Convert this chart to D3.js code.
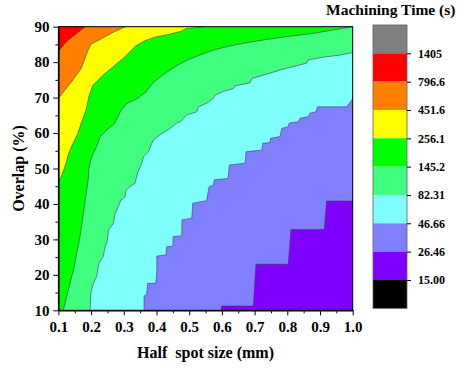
<!DOCTYPE html>
<html>
<head>
<meta charset="utf-8">
<script src="https://cdn.jsdelivr.net/npm/d3@7"></script>
<style>
  body { margin: 0; background: #fff; }
  text { font-family: 'Liberation Serif', 'Times New Roman', serif; font-weight: bold; fill: #000; }
</style>
</head>
<body>
<svg id="chart" width="462" height="369"></svg>
<script>
// Colour bands, from the top of the colour bar down
const bandColors = ['#808080', '#ff0000', '#ff8000', '#ffff00', '#00ff00', '#40ff80', '#80ffff', '#8080ff', '#8000ff', '#000000']
const levelLabels = ['1405', '796.6', '451.6', '256.1', '145.2', '82.31', '46.66', '26.46', '15.00']

const xTicks = [0.1, 0.2, 0.3, 0.4, 0.5, 0.6, 0.7, 0.8, 0.9, 1.0]
const yTicks = [10, 20, 30, 40, 50, 60, 70, 80, 90]

// Contour lines: [half spot size (mm), overlap (%)]
const c796 = [[0.182, 90], [0.156, 88.1], [0.125, 85.8], [0.1, 83.0]]
const c452 = [[0.305, 90], [0.267, 88.4], [0.227, 86.4], [0.2, 85.1], [0.19, 83.2], [0.177, 80.0], [0.169, 78.1], [0.139, 74.3], [0.103, 70.1], [0.1, 69.6]]
const c256 = [[0.548, 90], [0.492, 89.5], [0.472, 88.6], [0.431, 87.7], [0.398, 87.1], [0.368, 86.2], [0.337, 84.6], [0.302, 81.4], [0.271, 79.0], [0.235, 76.2], [0.205, 73.4], [0.194, 70.5], [0.184, 66.3], [0.169, 62.6], [0.159, 59.7], [0.135, 55.2], [0.12, 50.5], [0.105, 46.8], [0.1, 45.8]]
const c145 = [[1.0, 90], [0.941, 89.1], [0.879, 88.1], [0.798, 87.2], [0.737, 86.4], [0.676, 85.5], [0.625, 84.6], [0.574, 83.4], [0.533, 82.0], [0.502, 80.9], [0.472, 79.5], [0.441, 77.8], [0.411, 75.8], [0.389, 74.1], [0.368, 71.6], [0.343, 69.8], [0.307, 68.2], [0.291, 66.3], [0.281, 64.4], [0.271, 62.6], [0.249, 60.9], [0.227, 58.9], [0.217, 56.2], [0.202, 53.3], [0.194, 50.5], [0.191, 46.8], [0.181, 40.2], [0.166, 30.8], [0.146, 21.4], [0.125, 13.8], [0.115, 10]]
const c82 = [[1.0, 82.7], [0.961, 82.0], [0.91, 81.4], [0.864, 80.6], [0.859, 79.7], [0.778, 77.8], [0.747, 76.9], [0.691, 75.4], [0.686, 74.2], [0.64, 73.3], [0.635, 72.6], [0.604, 71.7], [0.579, 70.7], [0.574, 69.8], [0.553, 68.4], [0.528, 67.4], [0.523, 66.0], [0.492, 65.1], [0.472, 63.1], [0.462, 62.8], [0.441, 61.3], [0.411, 59.5], [0.39, 58.0], [0.375, 54.7], [0.36, 53.3], [0.355, 51.5], [0.343, 49.0], [0.334, 45.8], [0.319, 44.9], [0.307, 43.9], [0.304, 42.0], [0.291, 41.1], [0.283, 39.2], [0.273, 37.4], [0.268, 34.5], [0.253, 32.7], [0.25, 29.8], [0.243, 27.9], [0.237, 25.1], [0.224, 23.3], [0.217, 19.5], [0.207, 17.6], [0.199, 14.8], [0.197, 10]]
const c47 = [[1.0, 69.6], [0.982, 67.4], [0.892, 67.4], [0.888, 66.0], [0.869, 65.6], [0.864, 64.6], [0.839, 64.2], [0.834, 63.2], [0.806, 62.8], [0.803, 61.8], [0.783, 61.3], [0.778, 59.0], [0.749, 58.5], [0.747, 57.3], [0.725, 57.1], [0.722, 55.2], [0.674, 54.7], [0.671, 51.5], [0.623, 51.0], [0.619, 47.2], [0.577, 46.8], [0.574, 45.3], [0.561, 44.9], [0.553, 40.9], [0.511, 40.2], [0.508, 36.0], [0.478, 35.5], [0.477, 31.0], [0.451, 30.8], [0.45, 28.1], [0.431, 27.9], [0.429, 25.6], [0.401, 25.3], [0.401, 21.4], [0.398, 17.6], [0.373, 17.6], [0.37, 14.6], [0.362, 14.0], [0.362, 10]]
const c26 = [[1.0, 40.8], [0.92, 40.8], [0.913, 32.8], [0.811, 32.8], [0.803, 23.0], [0.704, 23.0], [0.696, 11.2], [0.599, 11.2], [0.597, 10]]

// lowest band first, each one painted over the area above/left of its line
const contours = [
  { line: c26, color: bandColors[7] },
  { line: c47, color: bandColors[6] },
  { line: c82, color: bandColors[5] },
  { line: c145, color: bandColors[4] },
  { line: c256, color: bandColors[3] },
  { line: c452, color: bandColors[2] },
  { line: c796, color: bandColors[1] },
]

const svg = d3.select('#chart')
const plot = { left: 58.4, right: 352.7, top: 26.7, bottom: 310.3 }

const x = d3.scaleLinear().domain([0.1, 1.0]).range([plot.left, plot.right])
const y = d3.scaleLinear().domain([10, 90]).range([plot.bottom, plot.top])

// base fill = lowest band inside the plot
svg.append('rect')
  .attr('x', x(0.1)).attr('y', y(90))
  .attr('width', x(1.0) - x(0.1)).attr('height', y(10) - y(90))
  .attr('fill', bandColors[8])

function closeRegion(pts) {
  const first = pts[0], last = pts[pts.length - 1]
  let poly = pts.slice()
  if (last[1] <= 10) poly.push([0.1, 10])
  poly.push([0.1, 90])
  if (first[0] >= 1.0) poly.push([1.0, 90])
  return poly
}

const line = d3.line().x((d) => x(d[0])).y((d) => y(d[1]))

svg.selectAll('.band')
  .data(contours)
  .enter()
  .append('path')
  .attr('class', 'band')
  .attr('d', (d) => line(closeRegion(d.line)) + 'Z')
  .attr('fill', (d) => d.color)

svg.selectAll('.cline')
  .data(contours)
  .enter()
  .append('path')
  .attr('class', 'cline')
  .attr('d', (d) => line(d.line))
  .attr('fill', 'none')
  .attr('stroke', '#404040')
  .attr('stroke-width', 0.6)

// frame
svg.append('rect')
  .attr('x', plot.left).attr('y', plot.top)
  .attr('width', plot.right - plot.left).attr('height', plot.bottom - plot.top)
  .attr('fill', 'none').attr('stroke', '#000').attr('stroke-width', 1)

// axes
const xAxis = svg.append('g')
  .attr('transform', `translate(0,${plot.bottom})`)
  .call(d3.axisBottom(x).tickValues(xTicks).tickFormat(d3.format('.1f')).tickSize(5).tickSizeOuter(0).tickPadding(4))
svg.append('g')
  .attr('transform', `translate(0,${plot.bottom})`)
  .call(d3.axisBottom(x).tickValues(xTicks.slice(0, -1).map((d) => d + 0.05)).tickFormat('').tickSize(3).tickSizeOuter(0))

const yAxis = svg.append('g')
  .attr('transform', `translate(${plot.left},0)`)
  .call(d3.axisLeft(y).tickValues(yTicks).tickSize(5).tickSizeOuter(0).tickPadding(4))
svg.append('g')
  .attr('transform', `translate(${plot.left},0)`)
  .call(d3.axisLeft(y).tickValues(yTicks.slice(0, -1).map((d) => d + 5)).tickFormat('').tickSize(3).tickSizeOuter(0))

svg.selectAll('.domain').attr('stroke', '#000')
svg.selectAll('.tick line').attr('stroke', '#000')
xAxis.selectAll('text').style('font-size', '15px').attr('font-family', null).attr('dy', '0.85em')
yAxis.selectAll('text').style('font-size', '15px').attr('font-family', null)

svg.append('text')
  .attr('x', (plot.left + plot.right) / 2)
  .attr('y', 358)
  .attr('text-anchor', 'middle')
  .style('font-size', '16px')
  .style('white-space', 'pre')
  .text('Half  spot size (mm)')

svg.append('text')
  .attr('transform', `translate(24,${(plot.top + plot.bottom) / 2}) rotate(-90)`)
  .attr('text-anchor', 'middle')
  .style('font-size', '16px')
  .text('Overlap (%)')

// colour bar
const bar = { x: 373, width: 34, top: 25, bottom: 308.3 }
const barY = d3.scaleLinear().domain([0, bandColors.length]).range([bar.top, bar.bottom])

svg.selectAll('.cbar')
  .data(bandColors)
  .enter()
  .append('rect')
  .attr('x', bar.x)
  .attr('y', (d, i) => barY(i))
  .attr('width', bar.width)
  .attr('height', (d, i) => barY(i + 1) - barY(i))
  .attr('fill', (d) => d)

svg.append('rect')
  .attr('x', bar.x).attr('y', bar.top)
  .attr('width', bar.width).attr('height', bar.bottom - bar.top)
  .attr('fill', 'none').attr('stroke', '#606060').attr('stroke-width', 0.8)

const barAxis = svg.append('g')
  .attr('transform', `translate(${bar.x + bar.width},0)`)
  .call(d3.axisRight(barY).tickValues(d3.range(1, bandColors.length)).tickFormat((d) => levelLabels[d - 1]).tickSize(4).tickSizeOuter(0).tickPadding(7))
barAxis.select('.domain').remove()
barAxis.selectAll('text').style('font-size', '12px').attr('font-family', null)

svg.append('text')
  .attr('x', 326)
  .attr('y', 15)
  .style('font-size', '15.5px')
  .text('Machining Time (s)')
</script>
</body>
</html>
